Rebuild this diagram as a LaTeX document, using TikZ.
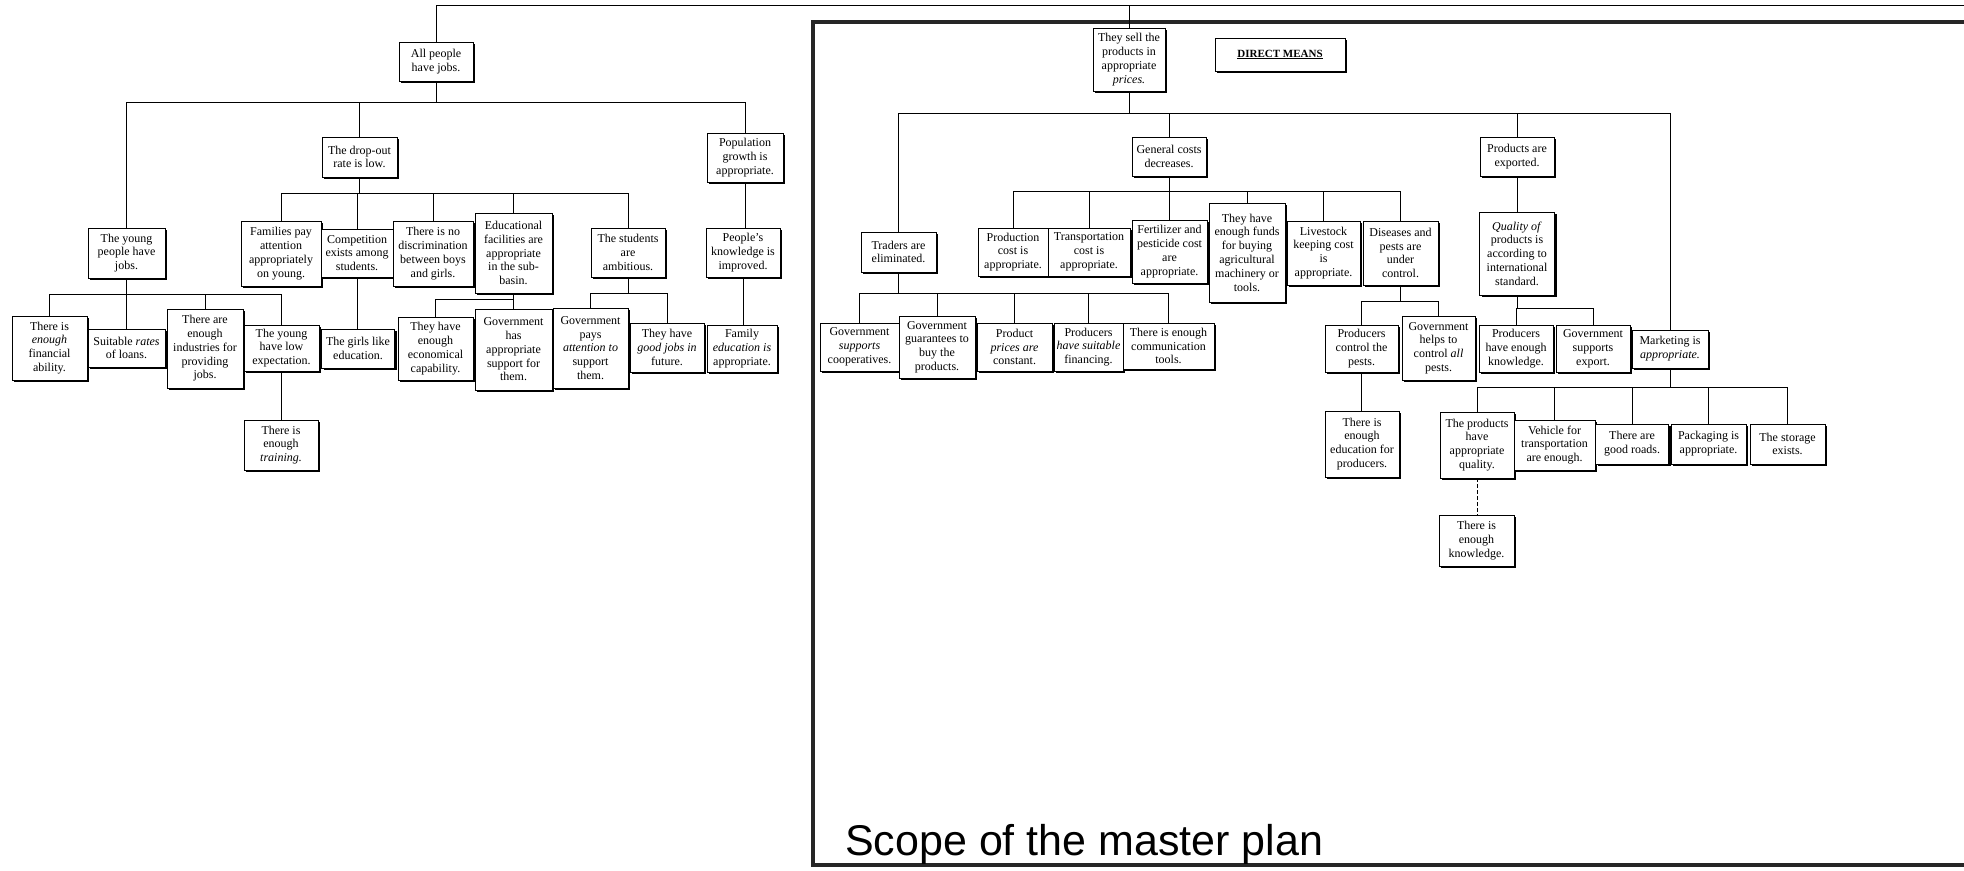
\documentclass[tikz,border=0pt]{standalone}
\usepackage{fontspec}
\setmainfont{Liberation Serif}
\newfontfamily\scopefont{Liberation Sans}
\usetikzlibrary{shadows}

% one shadowed box: name, centre x, centre y, width, height, text
\newcommand\bx[6]{\node[bx,minimum width=#4pt,minimum height=#5pt] (#1) at (#2,#3) {#6};}
% one parent with a horizontal bus at the given level feeding its children
\newcommand\tree[3]{%
  \path (0,#2) coordinate (#1-lv);
  \coordinate (#1-j) at (#1.south |- #1-lv);
  \draw[link] (#1.south) -- (#1-j);
  \foreach \c in {#3} {\draw[link] (#1-j) -| (\c.north);}}
% straight drop from a parent to a single child below it
\newcommand\drop[2]{\draw[link] (#1.south) -- (#1.south |- #2.north);}

\begin{document}
\begin{tikzpicture}[x=1pt,y=-1pt,
  bx/.style={draw, line width=0.9pt, fill=white, inner sep=0pt, align=center,
    font=\fontsize{12}{13.8}\selectfont,
    drop shadow={shadow xshift=2pt, shadow yshift=-2pt, fill=black, opacity=1}},
  link/.style={line width=0.65pt},
  frame/.style={line width=3.8pt, line join=miter, black!85}]
\useasboundingbox[fill=white] (0,0) rectangle (1964,870);

% ---- frame of the master-plan scope ----
\draw[frame] (1964,22) -- (813,22) -- (813,865) -- (1964,865);
\node[anchor=base west, inner sep=0pt, font=\scopefont\fontsize{43}{50}\selectfont] (scope) at (845,855) {Scope of the master plan};

% ---- left tree ----
\bx{allp}{436}{61.5}{74}{39}{All people\\have jobs.}
\bx{drop}{359.5}{157}{75}{40}{The drop-out\\rate is low.}
\bx{young}{126.5}{253}{77}{50}{The young\\people have\\jobs.}
\bx{pop}{745}{157.5}{76}{49}{Population\\growth is\\appropriate.}
\bx{know}{743}{252.5}{74}{49}{People's\\knowledge is\\improved.}
\bx{famed}{742}{348.5}{70}{47}{Family\\\textit{education is}\\appropriate.}
\bx{fam}{281}{253.5}{80}{65}{Families pay\\attention\\appropriately\\on young.}
\bx{comp}{357}{253}{72}{48}{Competition\\exists among\\students.}
\bx{nodisc}{433}{253.5}{80}{65}{There is no\\discrimination\\between boys\\and girls.}
\bx{edufac}{513.5}{253}{77}{80}{Educational\\facilities are\\appropriate\\in the sub-\\basin.}
\bx{ambit}{628}{252.5}{74}{49}{The students\\are\\ambitious.}
\bx{finab}{49.5}{348}{75}{64}{There is\\\textit{enough}\\financial\\ability.}
\bx{loans}{126.5}{348}{77}{38}{Suitable \textit{rates}\\of loans.}
\bx{indus}{205}{348.5}{76}{79}{There are\\enough\\industries for\\providing\\jobs.}
\bx{lowexp}{281.5}{348}{75}{46}{The young\\have low\\expectation.}
\bx{train}{281}{445}{74}{50}{There is\\enough\\\textit{training.}}
\bx{girls}{358}{348.5}{73}{39}{The girls like\\education.}
\bx{econ}{435.5}{348.5}{75}{63}{They have\\enough\\economical\\capability.}
\bx{govsup}{513.5}{349.5}{77}{81}{Government\\has\\appropriate\\support for\\them.}
\bx{govatt}{590.5}{348}{75}{80}{Government\\pays\\\textit{attention to}\\support\\them.}
\bx{goodjobs}{667}{347.5}{74}{49}{They have\\\textit{good jobs in}\\future.}

% ---- right tree ----
\bx{sell}{1129}{59.5}{72}{63}{They sell the\\products in\\appropriate\\\textit{prices.}}
\bx{direct}{1280}{54.5}{130}{33}{\fontsize{11}{13}\selectfont\bfseries\underline{DIRECT MEANS}}
\bx{gencost}{1169}{156.5}{74}{39}{General costs\\decreases.}
\bx{traders}{898.5}{252}{75}{40}{Traders are\\eliminated.}
\bx{export}{1517}{156.5}{74}{39}{Products are\\exported.}
\bx{quality}{1517}{253.5}{75}{83}{\textit{Quality of}\\products is\\according to\\international\\standard.}
\bx{prodcost}{1013}{252}{70}{48}{Production\\cost is\\appropriate.}
\bx{transcost}{1089}{252}{82}{48}{Transportation\\cost is\\appropriate.}
\bx{fert}{1169.5}{251.5}{75}{63}{Fertilizer and\\pesticide cost\\are\\appropriate.}
\bx{funds}{1247}{252.5}{76}{99}{They have\\enough funds\\for buying\\agricultural\\machinery or\\tools.}
\bx{livestock}{1323.5}{253}{73}{64}{Livestock\\keeping cost\\is\\appropriate.}
\bx{disease}{1400.5}{253}{75}{64}{Diseases and\\pests are\\under\\control.}
\bx{coop}{859.5}{347}{79}{48}{Government\\\textit{supports}\\cooperatives.}
\bx{guarantee}{937}{347}{76}{62}{Government\\guarantees to\\buy the\\products.}
\bx{prices}{1014.5}{347}{75}{48}{Product\\\textit{prices are}\\constant.}
\bx{finance}{1088.5}{347}{69}{48}{Producers\\\textit{have suitable}\\financing.}
\bx{commtools}{1168.5}{346}{91}{46}{There is enough\\communication\\tools.}
\bx{ctrlpests}{1361.5}{348.5}{73}{47}{Producers\\control the\\pests.}
\bx{govpests}{1438.5}{348}{73}{64}{Government\\helps to\\control \textit{all}\\pests.}
\bx{edprod}{1362}{444}{74}{66}{There is\\enough\\education for\\producers.}
\bx{prodknow}{1516}{348.5}{74}{47}{Producers\\have enough\\knowledge.}
\bx{govexp}{1593}{348.5}{74}{47}{Government\\supports\\export.}
\bx{market}{1670}{349}{76}{38}{Marketing is\\\textit{appropriate.}}
\bx{pquality}{1477}{445}{74}{66}{The products\\have\\appropriate\\quality.}
\bx{vehicle}{1554.5}{445}{81}{50}{Vehicle for\\transportation\\are enough.}
\bx{roads}{1632}{444}{73}{40}{There are\\good roads.}
\bx{packaging}{1708.5}{444}{75}{40}{Packaging is\\appropriate.}
\bx{storage}{1787.5}{444}{75}{40}{The storage\\exists.}
\bx{enknow}{1476.5}{540.5}{75}{51}{There is\\enough\\knowledge.}

% ---- connectors ----
\coordinate (topR) at (1964,5);
\draw[link] (allp.north) |- (topR);
\draw[link] (sell.north) -- (sell.north |- topR);

\tree{allp}{102}{young,drop,pop}
\tree{drop}{193}{fam,comp,nodisc,edufac,ambit}
\tree{young}{294}{finab,loans,indus,lowexp}
\tree{edufac}{299}{econ,govsup}
\tree{ambit}{293}{govatt,goodjobs}
\drop{lowexp}{train}
\drop{comp}{girls}
\drop{pop}{know}
\drop{know}{famed}

\tree{sell}{113}{traders,gencost,export,market}
\tree{gencost}{191}{prodcost,transcost,fert,funds,livestock,disease}
\tree{traders}{293}{coop,guarantee,prices,finance,commtools}
\tree{disease}{301}{ctrlpests,govpests}
\tree{quality}{308}{prodknow,govexp}
\tree{market}{387}{pquality,vehicle,roads,packaging,storage}
\drop{ctrlpests}{edprod}
\drop{export}{quality}
\draw[link, dash pattern=on 4pt off 2pt] (pquality.south) -- (pquality.south |- enknow.north);

\end{tikzpicture}
\end{document}
